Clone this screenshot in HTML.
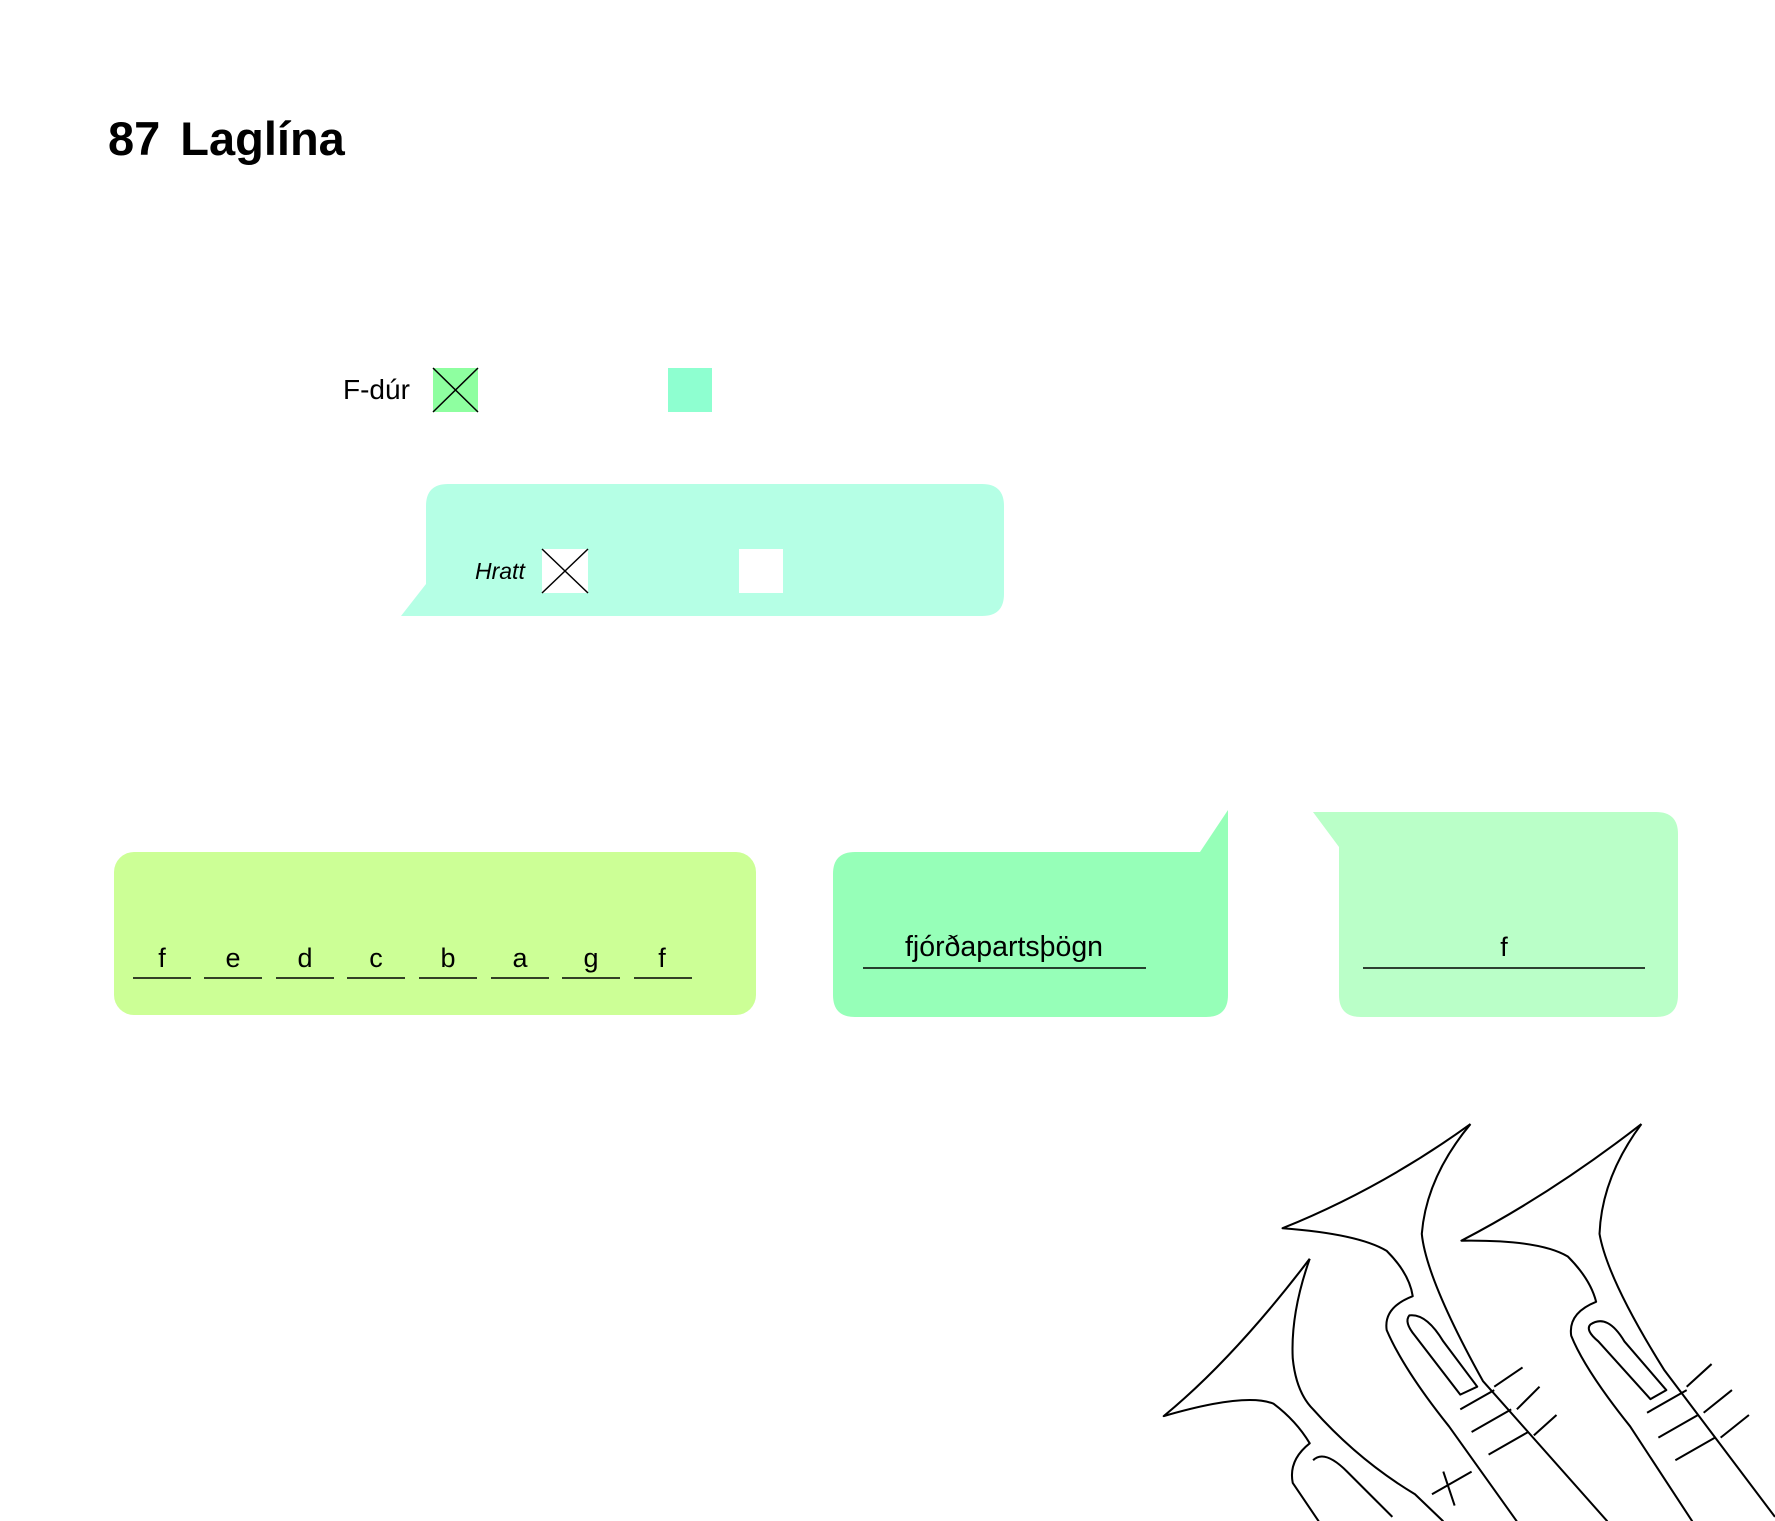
<!DOCTYPE html>
<html><head><meta charset="utf-8"><style>
body{margin:0;width:1775px;height:1521px;background:#fff;position:relative;overflow:hidden;font-family:"Liberation Sans",sans-serif}
.a{position:absolute}
.t{position:absolute;white-space:nowrap}
</style></head><body>
<div class="t" style="left:108px;top:111px;font-size:47px;font-weight:bold;">87<span style="display:inline-block;width:20px"></span>Laglína</div>
<div class="t" style="left:343px;top:374px;font-size:28px;">F-dúr</div>
<svg class="a" style="left:0;top:0" width="1775" height="1521">
<rect x="433" y="368" width="45" height="44" fill="#8effa0"/>
<line x1="433" y1="368" x2="478" y2="412" stroke="#000" stroke-width="1.5"/>
<line x1="478" y1="368" x2="433" y2="412" stroke="#000" stroke-width="1.5"/>
<rect x="668" y="368" width="44" height="44" fill="#8effd0"/>
<path d="M448,484 H982 Q1004,484 1004,506 V594 Q1004,616 982,616 H401 L426,584 V506 Q426,484 448,484Z" fill="#b5ffe5"/>
<rect x="542" y="549" width="46" height="44" fill="#fff"/>
<line x1="542" y1="549" x2="588" y2="593" stroke="#000" stroke-width="1.5"/>
<line x1="588" y1="549" x2="542" y2="593" stroke="#000" stroke-width="1.5"/>
<rect x="739" y="549" width="44" height="44" fill="#fff"/>
<rect x="114" y="852" width="642" height="163" rx="20" fill="#ccff96"/>
<path d="M855,852 H1200 L1228,810 V995 Q1228,1017 1206,1017 H855 Q833,1017 833,995 V874 Q833,852 855,852Z" fill="#96ffb8"/>
<path d="M1313,812 H1656 Q1678,812 1678,834 V995 Q1678,1017 1656,1017 H1361 Q1339,1017 1339,995 V847Z" fill="#baffc8"/>
<g stroke="#000" stroke-width="1.5">
<line x1="133" y1="978" x2="191" y2="978"/><line x1="204" y1="978" x2="262" y2="978"/>
<line x1="276" y1="978" x2="334" y2="978"/><line x1="347" y1="978" x2="405" y2="978"/>
<line x1="419" y1="978" x2="477" y2="978"/><line x1="491" y1="978" x2="549" y2="978"/>
<line x1="562" y1="978" x2="620" y2="978"/><line x1="634" y1="978" x2="692" y2="978"/>
<line x1="863" y1="968" x2="1146" y2="968"/><line x1="1363" y1="968" x2="1645" y2="968"/>
</g>
<g font-family="Liberation Sans,sans-serif" font-size="27" text-anchor="middle">
<text x="162" y="967">f</text><text x="233" y="967">e</text><text x="305" y="967">d</text><text x="376" y="967">c</text>
<text x="448" y="967">b</text><text x="520" y="967">a</text><text x="591" y="967">g</text><text x="662" y="967">f</text>
<text x="1004" y="956" font-size="28.5">fjórðapartsþögn</text><text x="1504" y="956">f</text>
</g>
<text x="475" y="579" font-size="23" font-style="italic" font-family="Liberation Sans,sans-serif">Hratt</text>
<g transform="scale(1.132)" fill="none" stroke="#000" stroke-width="1.8" stroke-linejoin="round">
<path d="M1299,993 Q1260,1040 1256,1090 Q1260,1130 1310,1220 L1420,1344"/>
<path d="M1299,993 Q1220,1050 1133,1085 Q1200,1090 1225,1105 Q1245,1125 1248,1145 Q1222,1155 1225,1175 Q1240,1210 1280,1260 L1340,1344"/>
<path d="M1245,1162 Q1260,1160 1275,1185 L1305,1225 L1290,1232 L1250,1180 Q1240,1168 1245,1162Z"/>
<path d="M1290,1245 L1320,1228 M1300,1265 L1335,1245 M1315,1285 L1350,1265 M1320,1225 L1345,1208 M1340,1245 L1360,1225 M1355,1268 L1375,1250"/>
<path d="M1450,993 Q1415,1040 1413,1090 Q1420,1130 1470,1210 L1568,1340"/>
<path d="M1450,993 Q1370,1055 1291,1096 Q1360,1095 1385,1110 Q1405,1130 1410,1150 Q1385,1160 1388,1180 Q1400,1210 1440,1260 L1495,1344"/>
<path d="M1405,1170 Q1420,1160 1435,1185 L1472,1228 L1458,1236 L1412,1185 Q1400,1175 1405,1170Z"/>
<path d="M1455,1248 L1490,1228 M1465,1270 L1500,1250 M1480,1290 L1515,1270 M1490,1225 L1512,1205 M1505,1248 L1530,1228 M1520,1270 L1545,1250"/>
<path d="M1157,1112 Q1140,1160 1142,1200 Q1145,1230 1160,1245 Q1200,1290 1250,1320 L1275,1344"/>
<path d="M1157,1112 Q1090,1200 1028,1251 Q1100,1230 1125,1240 Q1145,1255 1157,1275 Q1138,1290 1142,1310 L1165,1344"/>
<path d="M1160,1290 Q1170,1280 1190,1300 L1230,1340 M1275,1300 L1285,1330 M1265,1320 L1300,1300"/>
</g>
</svg>
</body></html>
